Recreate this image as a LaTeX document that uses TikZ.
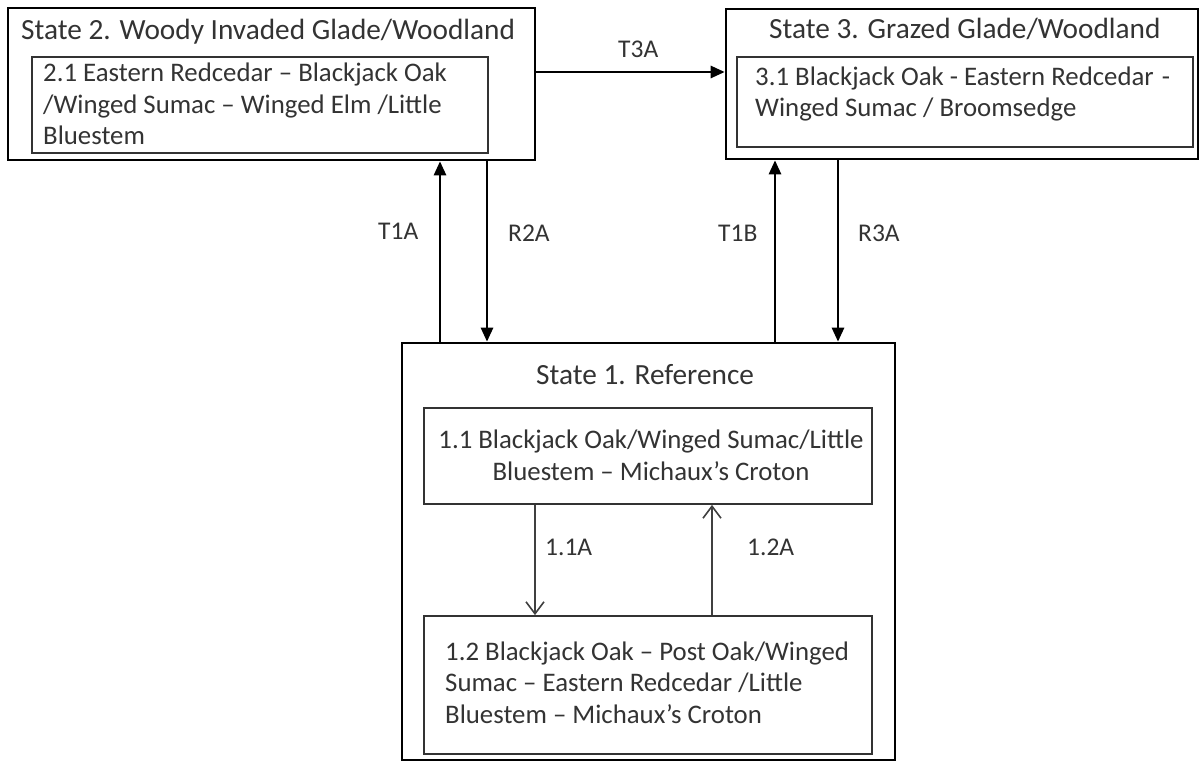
\documentclass[tikz,border=0pt]{standalone}
\usepackage{fontspec}
\setmainfont{Carlito}
\usetikzlibrary{arrows.meta}
\definecolor{txt}{HTML}{333333}
\tikzset{
  outerbox/.style={draw=black,line width=2.6pt,inner sep=0pt},
  innerbox/.style={draw=black!80,line width=1.8pt,inner sep=0pt},
  ttl/.style={font=\fontsize{29.3}{34}\selectfont,text=txt,inner sep=0pt,anchor=base west},
  body/.style={font=\fontsize{26.8}{31.5}\selectfont,text=txt,inner sep=0pt,anchor=base west,align=left},
  lbl/.style={font=\fontsize{25.5}{28}\selectfont,text=txt,inner sep=0pt,anchor=base west},
  bigarrow/.style={line width=2.6pt,-{Triangle[length=14pt,width=12pt]}},
  smallarrow/.style={draw=black!75,line width=1.8pt,-{Straight Barb[length=12pt,width=18pt,line width=1.6pt]}}
}
\begin{document}
\begin{tikzpicture}[x=1pt,y=-1pt]
\useasboundingbox (0,0) rectangle (1202,762);
\clip (0,0) rectangle (1202,762);
% boxes
\node[outerbox,minimum width=527pt,minimum height=152pt] (s2) at (271.5,84) {};
\node[innerbox,minimum width=456pt,minimum height=96pt] (s21) at (260,105) {};
\node[outerbox,minimum width=472pt,minimum height=150pt] (s3) at (962,84) {};
\node[innerbox,minimum width=456pt,minimum height=90pt] (s31) at (965,102) {};
\node[outerbox,minimum width=493pt,minimum height=417pt] (s1) at (648.5,551.5) {};
\node[innerbox,minimum width=448pt,minimum height=96pt] (s11) at (648,456) {};
\node[innerbox,minimum width=448pt,minimum height=138pt] (s12) at (648,685) {};
% texts
\node[ttl] (t2) at (21,40) {State 2. Woody Invaded Glade/Woodland};
\node[body] (b21) at (43,145) {2.1 Eastern Redcedar -- Blackjack Oak\\/Winged Sumac -- Winged Elm /Little\\Bluestem};
\node[ttl] (t3) at (769,39) {State 3. Grazed Glade/Woodland};
\node[body] (b31) at (755,117) {3.1 Blackjack Oak - Eastern Redcedar\hspace{2pt} -\\Winged Sumac / Broomsedge};
\node[ttl] (t1) at (536,384) {State 1. Reference};
\node[body,align=center,anchor=base] (b11) at (651,480) {1.1 Blackjack Oak/Winged Sumac/Little\\Bluestem -- Michaux’s Croton};
\node[body] (b12) at (445,723) {1.2 Blackjack Oak -- Post Oak/Winged\\Sumac -- Eastern Redcedar /Little\\Bluestem -- Michaux’s Croton};
% x positions
\coordinate (xa) at (440,0);
\coordinate (xb) at (487,0);
\coordinate (xc) at (775,0);
\coordinate (xd) at (838,0);
\coordinate (xe) at (535,0);
\coordinate (xf) at (712,0);
\coordinate (ya) at (0,72);
% connectors
\draw[bigarrow] (s1.north -| xa) -- (s2.south -| xa);
\draw[bigarrow] (s2.south -| xb) -- (s1.north -| xb);
\draw[bigarrow] (s1.north -| xc) -- (s3.south -| xc);
\draw[bigarrow] (s3.south -| xd) -- (s1.north -| xd);
\draw[bigarrow] (s2.east |- ya) -- (s3.west |- ya);
\draw[smallarrow] (s11.south -| xe) -- (s12.north -| xe);
\draw[smallarrow] (s12.north -| xf) -- (s11.south -| xf);
% labels
\node[lbl] (lt1a) at (378,240) {T1A};
\node[lbl] (lr2a) at (508,241) {R2A};
\node[lbl] (lt1b) at (718,241) {T1B};
\node[lbl] (lr3a) at (858,241) {R3A};
\node[lbl] (lt3a) at (618,58) {T3A};
\node[lbl] (l11a) at (545,555) {1.1A};
\node[lbl] (l12a) at (747,555) {1.2A};
\end{tikzpicture}
\end{document}
